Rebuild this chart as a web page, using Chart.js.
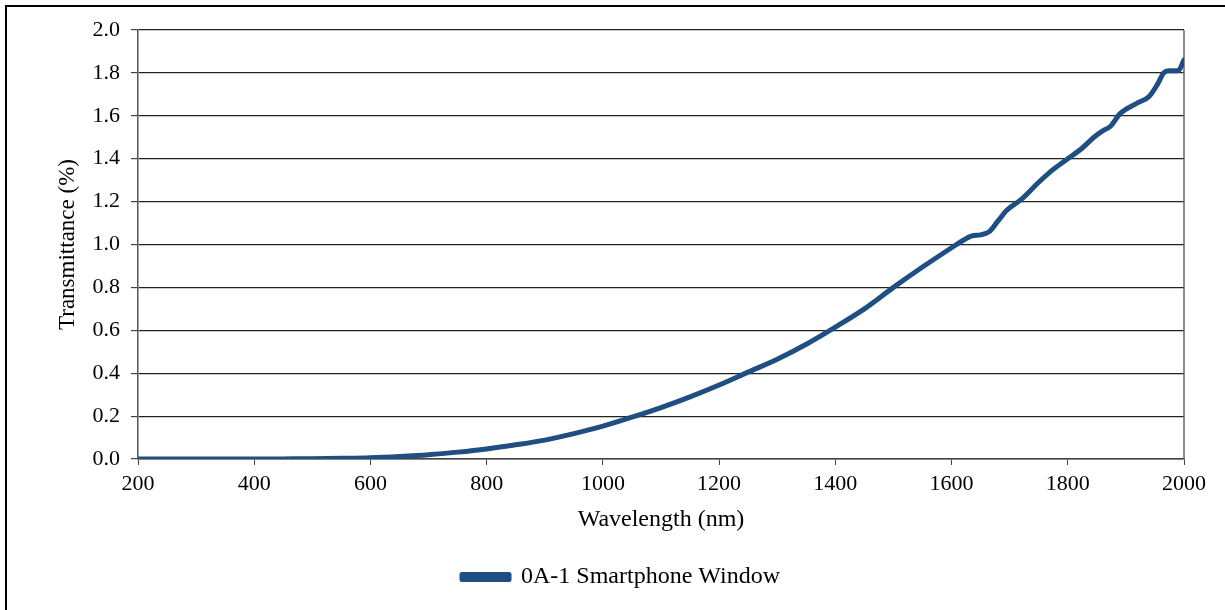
<!DOCTYPE html>
<html>
<head>
<meta charset="utf-8">
<script src="https://cdn.jsdelivr.net/npm/chart.js@4"></script>
<style>
  body { margin: 0; background: #fff; overflow: hidden; }
  #frame { position: absolute; left: 5px; top: 5px; width: 1240px; height: 700px; border: 2px solid #000; }
  #wrap { position: absolute; left: 0; top: 0; width: 1225px; height: 610px; }
</style>
</head>
<body>
<div id="frame"></div>
<div id="wrap"><canvas id="chart" width="1225" height="610"></canvas></div>
<script>
// Wavelength (nm) and transmittance (%)
var wavelengths = [200, 300, 400, 450, 500, 550, 600, 650, 700, 750, 800, 850, 900, 950, 1000,
    1050, 1100, 1150, 1200, 1250, 1300, 1350, 1400, 1450, 1500, 1550, 1600, 1620, 1635, 1650,
    1665, 1680, 1695, 1720, 1750, 1775, 1800, 1825, 1845, 1860, 1873, 1890, 1920, 1940, 1955,
    1965, 1975, 1990, 2000];
var transmittance = [0, 0, 0, 0.0005, 0.001, 0.003, 0.006, 0.012, 0.02, 0.032, 0.047, 0.066, 0.088, 0.118, 0.153,
    0.195, 0.24, 0.29, 0.345, 0.405, 0.465, 0.535, 0.615, 0.70, 0.80, 0.895, 0.985, 1.02, 1.04, 1.045,
    1.06, 1.11, 1.16, 1.21, 1.29, 1.35, 1.40, 1.45, 1.50, 1.53, 1.55, 1.61, 1.66, 1.69, 1.75,
    1.80, 1.81, 1.81, 1.86];
var seriesName = "0A-1 Smartphone Window";
var xTitle = "Wavelength (nm)";
var yTitle = "Transmittance (%)";

var lineColor = "#1F4E82";
var serif = "'Liberation Serif', 'Times New Roman', serif";

// outline the plot area on the right side like the original
var frameBox = {
    id: "frameBox",
    beforeDatasetsDraw: function(chart) {
        var a = chart.chartArea, ctx = chart.ctx;
        ctx.save();
        ctx.strokeStyle = "#666";
        ctx.lineWidth = 1.5;
        ctx.beginPath();
        ctx.moveTo(a.right, a.top);
        ctx.lineTo(a.right, a.bottom);
        ctx.stroke();
        ctx.restore();
    }
};

var points = wavelengths.map(function(w, i) {
    return { x: w, y: transmittance[i] };
});

var ctx = document.getElementById("chart").getContext("2d");
var chart = new Chart(ctx, {
    type: "line",
    data: {
        datasets: [{
            label: seriesName,
            data: points,
            borderColor: lineColor,
            backgroundColor: lineColor,
            borderWidth: 5,
            pointRadius: 0,
            tension: 0.3,
            cubicInterpolationMode: "monotone",
            borderCapStyle: "round",
            borderJoinStyle: "round"
        }]
    },
    options: {
        responsive: false,
        animation: false,
        devicePixelRatio: 1,
        layout: { padding: { left: 58, top: 30, right: 41, bottom: 11 } },
        plugins: {
            legend: {
                position: "bottom",
                labels: {
                    boxWidth: 47,
                    boxHeight: 5,
                    padding: 10,
                    color: "#000",
                    font: { family: serif, size: 24 }
                }
            },
            tooltip: { enabled: false }
        },
        scales: {
            x: {
                type: "linear",
                min: 200,
                max: 2000,
                afterFit: function(scale) { scale.height = 96; },
                ticks: {
                    stepSize: 200,
                    color: "#000",
                    padding: 6,
                    font: { family: serif, size: 22 },
                    callback: function(v) { return String(v); }
                },
                grid: {
                    drawOnChartArea: false,
                    drawTicks: true,
                    tickLength: 6,
                    tickColor: "#444"
                },
                border: { color: "#444", width: 1.5 },
                title: {
                    display: true,
                    text: xTitle,
                    color: "#000",
                    font: { family: serif, size: 24 },
                    padding: { top: 0, bottom: 21 }
                }
            },
            y: {
                min: 0,
                max: 2,
                afterFit: function(scale) { scale.width = 80; },
                ticks: {
                    stepSize: 0.2,
                    color: "#000",
                    padding: 11,
                    font: { family: serif, size: 22 },
                    callback: function(v) { return v.toFixed(1); }
                },
                grid: {
                    color: "#222",
                    lineWidth: 1.2,
                    tickLength: 7,
                    tickColor: "#444"
                },
                border: { color: "#555", width: 1.5 },
                title: {
                    display: true,
                    text: yTitle,
                    color: "#000",
                    font: { family: serif, size: 23 },
                    padding: { top: -4, bottom: 0 }
                }
            }
        }
    },
    plugins: [frameBox]
});
</script>
</body>
</html>
